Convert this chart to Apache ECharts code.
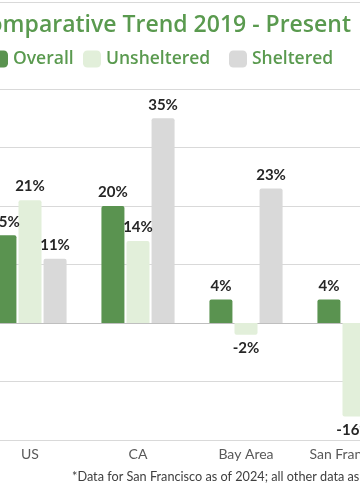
<!DOCTYPE html>
<html><head><meta charset="utf-8">
<script src="https://cdn.jsdelivr.net/npm/echarts@6/dist/echarts.min.js"></script>
<style>
html,body{margin:0;padding:0;width:360px;height:504px;overflow:hidden;background:#fff;}
#c{position:absolute;left:-40px;top:0;width:480px;height:504px;}
</style></head>
<body><div id="c"></div>
<script>
const categories = ['US', 'CA', 'Bay Area', 'San Francisco*'];
const overall = [15, 20, 4, 4];
const unsheltered = [21, 14, -2, -16];
const sheltered = [11, 35, 23, 39];
const seriesNames = ['Overall', 'Unsheltered', 'Sheltered'];
const titleText = 'Comparative Trend 2019 - Present';
const footnote = '*Data for San Francisco as of 2024; all other data as of 2023';

const colors = ['#5a9350', '#e2efda', '#d9d9d9'];
const legendLefts = [30, 123, 269];
const chart = echarts.init(document.getElementById('c'), null, {renderer: 'canvas'});
const lbl = {show: true, formatter: p => p.value + '%', color: '#262626', fontFamily: 'Lato', fontWeight: 'bold', fontSize: 15, distance: 6};
function mk(name, data, i) {
  return {
    name, type: 'bar', barWidth: 23, barGap: '9%',
    itemStyle: {color: colors[i], borderRadius: [2, 2, 0, 0]},
    label: Object.assign({}, lbl, {position: 'top'}),
    data: data.map(v => v < 0 ? {value: v, label: {position: 'bottom'}, itemStyle: {borderRadius: [0, 0, 2, 2]}} : v)
  };
}
const ser = seriesNames.map((n, i) => mk(n, [overall, unsheltered, sheltered][i], i));
chart.setOption({
  animation: false,
  title: {text: titleText, left: 9, top: 9, textStyle: {color: '#5a9a4f', fontFamily: 'Open Sans', fontWeight: 600, fontSize: 23}},
  legend: seriesNames.map((n, i) => ({data: [n], left: legendLefts[i], top: 50, padding: 0, itemWidth: 18, itemHeight: 17,
    textStyle: {color: '#5a9a4f', fontFamily: 'Open Sans', fontWeight: 600, fontSize: 17.5}})),
  grid: {left: 16, width: 432, top: 89, height: 351, containLabel: false},
  xAxis: {type: 'category', data: categories, axisTick: {show: false},
    axisLine: {lineStyle: {color: '#bfbfbf', width: 1}},
    axisLabel: {interval: 0, color: '#595959', fontFamily: 'Lato', fontSize: 14, margin: 7}},
  yAxis: {type: 'value', min: -20, max: 40, interval: 10, axisLabel: {show: false},
    splitLine: {lineStyle: {color: '#d9d9d9', width: 1}}},
  graphic: [
    {type: 'text', left: 112, top: 470, style: {text: footnote, fill: '#404040', font: '12.7px Lato'}},
    {type: 'line', shape: {x1: 0, y1: 2.5, x2: 480, y2: 2.5}, style: {stroke: '#d9d9d9', lineWidth: 1}}
  ],
  series: ser
});
</script></body></html>
